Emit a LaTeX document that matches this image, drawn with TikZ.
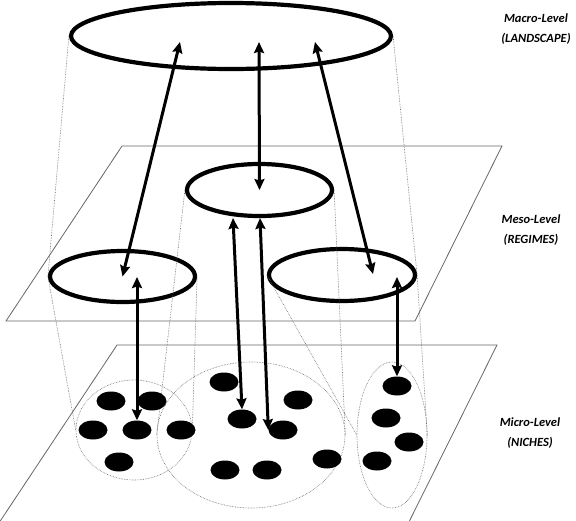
\documentclass[tikz,border=0pt]{standalone}
\usepackage{fontspec}
\setmainfont{Carlito}
\newfontfamily\tagfont{Carlito}[UprightFont={*/BI}]
\usepackage{tikz}
\usetikzlibrary{arrows.meta,shapes.geometric}

\begin{document}
\begin{tikzpicture}[x=1pt,y=-1pt,
            level/.style={draw,ellipse,line width=4.2pt,inner sep=0pt},
            niche/.style={draw=black!60,ellipse,densely dotted,line width=0.6pt,inner sep=0pt},
            firm/.style={fill=black,ellipse,inner sep=0pt,minimum width=29pt,minimum height=19pt},
            link/.style={line width=3pt,{Stealth[length=11pt,width=10pt,inset=1.5pt]}-{Stealth[length=11pt,width=10pt,inset=1.5pt]}},
            guide/.style={black!60,densely dotted,line width=0.6pt},
            plane/.style={draw=black!60,line width=0.8pt},
            tag/.style={font=\tagfont\fontsize{12.5}{20}\selectfont,align=center}]
            \clip (0,0) rectangle (576,520);
            \fill[white] (0,0) rectangle (576,520);
            \draw[plane] (122,146) -- (502,146) -- (415,321) -- (6,321) -- cycle;
            \draw[plane] (117,345) -- (497,345) -- (398,544) -- (-15,544) -- cycle;
            \node[level,minimum width=320pt,minimum height=66pt] (macro) at (231,36) {};
            \node[level,minimum width=145pt,minimum height=52pt] (mesoC) at (259.5,190) {};
            \node[level,minimum width=145pt,minimum height=51pt] (mesoL) at (122.5,276.5) {};
            \node[level,minimum width=146pt,minimum height=52pt] (mesoR) at (342,275) {};
            \node[niche,minimum width=116pt,minimum height=100pt] (nicheL) at (134,430) {};
            \node[niche,minimum width=188pt,minimum height=146pt] (nicheC) at (251,435) {};
            \node[niche,minimum width=70pt,minimum height=146pt] (nicheR) at (392,435) {};
            \draw[guide] (macro.west) -- (mesoL.west);
            \draw[guide] (macro.east) -- (mesoR.east);
            \draw[guide] (mesoL.west) -- (nicheL.west);
            \draw[guide] (mesoL.east) -- (nicheL.east);
            \draw[guide] (mesoC.west) -- (nicheC.west);
            \draw[guide] (mesoC.east) -- (nicheC.east);
            \draw[guide] (mesoR.west) -- (nicheR.west);
            \draw[guide] (mesoR.east) -- (nicheR.east);
            \foreach \n/\x/\y in {L1/111/401, L2/152/401, L3/93/430, L4/137/430, L5/181/430, L6/119/462,
                                  C1/224/382, C2/242/419, C3/298/400, C4/283/430, C5/225/470, C6/267/470, C7/327/459,
                                  R1/397/386, R2/386/418, R3/409/442, R4/377/461}
              \node[firm] (d\n) at (\x,\y) {};
            \coordinate (upL) at (180,42);
            \coordinate (upC) at (259,42);
            \coordinate (upR) at (315,42);
            \coordinate (downR) at (373,274);
            \coordinate (baseL) at (137,277);
            \coordinate (baseC1) at (233,218);
            \coordinate (baseC2) at (260,218);
            \coordinate (baseR) at (397,277);
            \draw[link] (upL) -- (mesoL.center);
            \draw[link] (upC) -- (mesoC.center);
            \draw[link] (upR) -- (downR);
            \draw[link] (baseL) -- (dL4.north);
            \draw[link] (baseC1) -- (dC2.north);
            \draw[link] (baseC2) -- (dC4.west);
            \draw[link] (baseR) -- (dR1.north);
            \node[tag] (macrotag) at (536,29) {Macro-Level\\(LANDSCAPE)};
            \node[tag] (mesotag) at (531,230) {Meso-Level\\(REGIMES)};
            \node[tag] (microtag) at (530,433) {Micro-Level\\(NICHES)};
        \end{tikzpicture}
\end{document}
